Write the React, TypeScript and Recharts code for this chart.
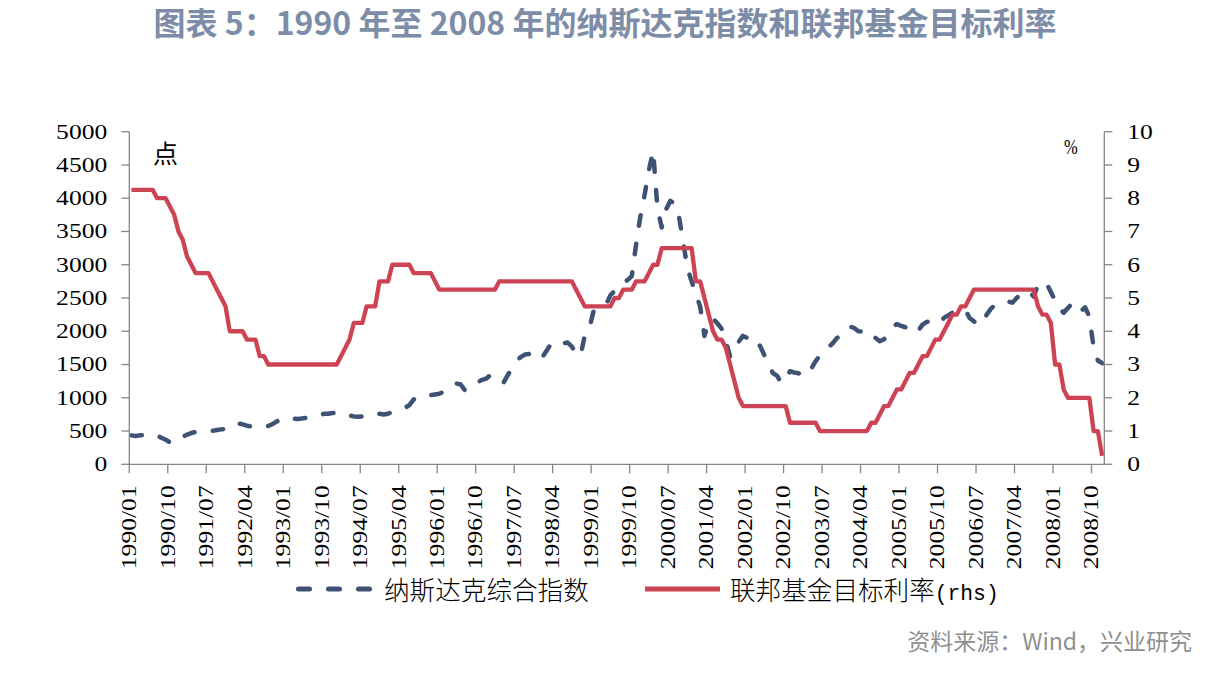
import React from 'react';
import { LineChart, Line, XAxis, YAxis } from 'recharts';

// ---------- data ----------
const years: number[] = [1990, 1991, 1992, 1993, 1994, 1995, 1996, 1997, 1998, 1999, 2000, 2001, 2002, 2003, 2004, 2005, 2006, 2007, 2008];
const monthNames: string[] = ['01', '02', '03', '04', '05', '06', '07', '08', '09', '10', '11', '12'];
const months: string[] = years.flatMap((y) => monthNames.map((m) => `${y}/${m}`));

// 纳斯达克综合指数 (monthly)
const nasdaq: number[] = [
  435, 425, 435, 440, 445, 450, 430, 400, 370, 330, 320, 360,
  415, 445, 470, 485, 490, 490, 495, 505, 515, 525, 530, 550,
  605, 615, 600, 580, 570, 560, 560, 565, 575, 605, 645, 675,
  700, 690, 685, 680, 690, 700, 705, 715, 735, 760, 760, 770,
  780, 780, 765, 735, 720, 715, 720, 745, 760, 765, 760, 750,
  760, 785, 810, 835, 850, 890, 975, 1015, 1030, 1035, 1040, 1050,
  1060, 1090, 1110, 1170, 1215, 1200, 1110, 1145, 1190, 1235, 1270, 1290,
  1345, 1320, 1270, 1225, 1340, 1450, 1550, 1610, 1650, 1660, 1600, 1575,
  1600, 1700, 1800, 1850, 1840, 1820, 1830, 1770, 1660, 1630, 1930, 2020,
  2290, 2320, 2350, 2400, 2540, 2610, 2680, 2720, 2770, 2830, 3300, 3720,
  4050, 4420, 4710, 3850, 3560, 3830, 3960, 3920, 3740, 3350, 2950, 2750,
  2560, 2370, 1930, 2150, 2190, 2120, 2040, 1850, 1620, 1680, 1840, 1930,
  1900, 1820, 1850, 1780, 1640, 1500, 1370, 1330, 1220, 1290, 1400, 1380,
  1370, 1320, 1370, 1440, 1550, 1640, 1710, 1760, 1820, 1900, 1940, 1990,
  2070, 2050, 2000, 1995, 1960, 1980, 1900, 1850, 1880, 1960, 2060, 2110,
  2080, 2060, 2020, 1970, 2010, 2100, 2140, 2150, 2140, 2120, 2200, 2240,
  2280, 2280, 2300, 2320, 2200, 2150, 2090, 2140, 2250, 2340, 2400, 2420,
  2440, 2450, 2430, 2500, 2560, 2600, 2600, 2520, 2700, 2740, 2720, 2590,
  2460, 2330, 2280, 2350, 2420, 2390, 2300, 2360, 2220, 1760, 1560, 1520,
];

// 联邦基金目标利率 (%)
const fedRate: number[] = [
  8.25, 8.25, 8.25, 8.25, 8.25, 8.25, 8, 8, 8, 7.75, 7.5, 7,
  6.75, 6.25, 6, 5.75, 5.75, 5.75, 5.75, 5.5, 5.25, 5, 4.75, 4,
  4, 4, 4, 3.75, 3.75, 3.75, 3.25, 3.25, 3, 3, 3, 3,
  3, 3, 3, 3, 3, 3, 3, 3, 3, 3, 3, 3,
  3, 3.25, 3.5, 3.75, 4.25, 4.25, 4.25, 4.75, 4.75, 4.75, 5.5, 5.5,
  5.5, 6, 6, 6, 6, 6, 5.75, 5.75, 5.75, 5.75, 5.75, 5.5,
  5.25, 5.25, 5.25, 5.25, 5.25, 5.25, 5.25, 5.25, 5.25, 5.25, 5.25, 5.25,
  5.25, 5.25, 5.5, 5.5, 5.5, 5.5, 5.5, 5.5, 5.5, 5.5, 5.5, 5.5,
  5.5, 5.5, 5.5, 5.5, 5.5, 5.5, 5.5, 5.5, 5.25, 5, 4.75, 4.75,
  4.75, 4.75, 4.75, 4.75, 4.75, 5, 5, 5.25, 5.25, 5.25, 5.5, 5.5,
  5.5, 5.75, 6, 6, 6.5, 6.5, 6.5, 6.5, 6.5, 6.5, 6.5, 6.5,
  5.5, 5.5, 5, 4.5, 4, 3.75, 3.75, 3.5, 3, 2.5, 2, 1.75,
  1.75, 1.75, 1.75, 1.75, 1.75, 1.75, 1.75, 1.75, 1.75, 1.75, 1.25, 1.25,
  1.25, 1.25, 1.25, 1.25, 1.25, 1, 1, 1, 1, 1, 1, 1,
  1, 1, 1, 1, 1, 1.25, 1.25, 1.5, 1.75, 1.75, 2, 2.25,
  2.25, 2.5, 2.75, 2.75, 3, 3.25, 3.25, 3.5, 3.75, 3.75, 4, 4.25,
  4.5, 4.5, 4.75, 4.75, 5, 5.25, 5.25, 5.25, 5.25, 5.25, 5.25, 5.25,
  5.25, 5.25, 5.25, 5.25, 5.25, 5.25, 5.25, 5.25, 4.75, 4.5, 4.5, 4.25,
  3, 3, 2.25, 2, 2, 2, 2, 2, 2, 1, 1, 0.25,
];

const leftTicks: number[] = [0, 500, 1000, 1500, 2000, 2500, 3000, 3500, 4000, 4500, 5000];
const rightTicks: number[] = [0, 1, 2, 3, 4, 5, 6, 7, 8, 9, 10];

const titleText = '图表 5：1990 年至 2008 年的纳斯达克指数和联邦基金目标利率';
const seriesNames: string[] = ['纳斯达克综合指数', '联邦基金目标利率'];
const sourceText = '资料来源：Wind，兴业研究';

const data = months.map((m, i) => ({ month: m, nasdaq: nasdaq[i], rate: fedRate[i] }));

// ---------- style ----------
const NAVY = '#3E5273';
const RED = '#CD4354';
const AXIS = '#858585';
const SERIF = '"Liberation Serif", "Times New Roman", serif';
const CJK = '"Noto Sans CJK SC", "Noto Sans", sans-serif';
const SX = 1.28;
const PLOT_W = 975;
const PAD = PLOT_W / months.length / 2;

const LeftTick = (props: any) => {
  const { x, y, payload } = props;
  return (
    <g transform={`translate(${x},${y})`}>
      <text transform={`scale(${SX},1)`} textAnchor="end" dy="0.34em" fontFamily={SERIF} fontSize={20} fill="#000">
        {payload.value}
      </text>
    </g>
  );
};

const RightTick = (props: any) => {
  const { x, y, payload } = props;
  return (
    <g transform={`translate(${x},${y})`}>
      <text transform={`scale(${SX},1)`} textAnchor="start" dy="0.34em" fontFamily={SERIF} fontSize={20} fill="#000">
        {payload.value}
      </text>
    </g>
  );
};

const XTick = (props: any) => {
  const { x, y, payload } = props;
  return (
    <g transform={`translate(${x - PAD},${y})`}>
      <line x1={0} y1={0} x2={0} y2={9} stroke={AXIS} strokeWidth={1.3} />
      <text
        transform={`translate(0,21) rotate(-90) scale(${SX},1)`}
        textAnchor="end"
        dy="0.34em"
        fontFamily={SERIF}
        fontSize={20}
        fill="#000"
      >
        {payload.value}
      </text>
    </g>
  );
};

export default function App() {
  return (
    <div style={{ position: 'relative', width: 1216, height: 667, background: '#fff' }}>
      <div
        style={{
          position: 'absolute',
          left: 0,
          top: -4,
          width: 1194,
          textAlign: 'center',
          fontFamily: CJK,
          fontSize: 32,
          lineHeight: '34px',
          fontWeight: 700,
          color: '#7D8DA7',
          whiteSpace: 'pre',
        }}
      >
        {titleText}
      </div>

      <div style={{ position: 'absolute', left: 0, top: 0 }}>
        <LineChart
          width={1216}
          height={660}
          data={data}
          margin={{ top: 123.7, right: 39.7, bottom: 103.7, left: 41.3 }}
        >
          <XAxis
            dataKey="month"
            scale="point"
            padding={{ left: PAD, right: PAD }}
            interval={8}
            tickSize={0}
            tickMargin={0}
            tickLine={false}
            tick={XTick}
            height={100}
            axisLine={{ stroke: AXIS, strokeWidth: 1.3 }}
          />
          <YAxis
            yAxisId="left"
            domain={[0, 5000]}
            ticks={leftTicks}
            interval={0}
            width={80}
            tickSize={8}
            tickMargin={14}
            tick={LeftTick}
            tickLine={{ stroke: AXIS, strokeWidth: 1.3 }}
            axisLine={{ stroke: AXIS, strokeWidth: 1.3 }}
          />
          <YAxis
            yAxisId="right"
            orientation="right"
            domain={[0, 10]}
            ticks={rightTicks}
            interval={0}
            width={80}
            tickSize={8}
            tickMargin={15}
            tick={RightTick}
            tickLine={{ stroke: AXIS, strokeWidth: 1.3 }}
            axisLine={{ stroke: AXIS, strokeWidth: 1.3 }}
          />
          <Line
            yAxisId="left"
            type="linear"
            dataKey="nasdaq"
            name={seriesNames[0]}
            stroke={NAVY}
            strokeWidth={4.5}
            strokeDasharray="10.5 18.3"
            strokeLinecap="round"
            strokeLinejoin="round"
            dot={false}
            activeDot={false}
            isAnimationActive={false}
          />
          <Line
            yAxisId="right"
            type="linear"
            dataKey="rate"
            name={seriesNames[1]}
            stroke={RED}
            strokeWidth={4.3}
            strokeLinejoin="round"
            dot={false}
            activeDot={false}
            isAnimationActive={false}
          />
        </LineChart>
      </div>

      {/* unit labels */}
      <div
        style={{
          position: 'absolute',
          left: 145,
          top: 132,
          fontFamily: CJK,
          fontSize: 25,
          lineHeight: '25px',
          color: '#000',
        }}
      >
        点
      </div>
      <div
        style={{
          position: 'absolute',
          left: 1056,
          top: 128,
          fontFamily: SERIF,
          fontSize: 22,
          lineHeight: '22px',
          color: '#000',
          transform: 'scaleX(0.75)',
          transformOrigin: 'left center',
        }}
      >
        %
      </div>

      {/* legend */}
      <svg style={{ position: 'absolute', left: 288, top: 571 }} width={80} height={20}>
        <line x1={2.5} y1={10} x2={74} y2={10} stroke={NAVY} strokeWidth={5} strokeDasharray="11 19" strokeLinecap="round" />
      </svg>
      <div
        style={{
          position: 'absolute',
          left: 376,
          top: 568,
          fontFamily: CJK,
          fontSize: 25.6,
          lineHeight: '26px',
          fontWeight: 300,
          color: '#000',
          whiteSpace: 'pre',
        }}
      >
        {seriesNames[0]}
      </div>
      <svg style={{ position: 'absolute', left: 637, top: 571 }} width={76} height={20}>
        <line x1={0} y1={10} x2={75} y2={10} stroke={RED} strokeWidth={5} />
      </svg>
      <div
        style={{
          position: 'absolute',
          left: 722,
          top: 568,
          fontFamily: CJK,
          fontSize: 25.6,
          lineHeight: '26px',
          fontWeight: 300,
          color: '#000',
          whiteSpace: 'pre',
        }}
      >
        {seriesNames[1]}
        <span style={{ fontFamily: '"Liberation Mono", monospace', fontSize: 21.3 }}>(rhs)</span>
      </div>

      {/* source */}
      <div
        style={{
          position: 'absolute',
          right: 32,
          top: 621,
          fontFamily: CJK,
          fontSize: 23,
          lineHeight: '23px',
          color: '#8F8F8F',
          whiteSpace: 'pre',
        }}
      >
        {sourceText}
      </div>
    </div>
  );
}
